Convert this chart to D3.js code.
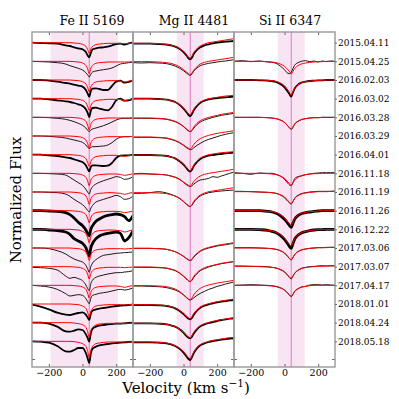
<!DOCTYPE html>
<html lang="en">
<head>
<meta charset="UTF-8">
<title>Line profiles</title>
<script src="https://d3js.org/d3.v7.min.js"></script>
<style>
  body { margin: 0; background: #fff; }
  text { font-family: "DejaVu Serif", serif; fill: #000; }
</style>
</head>
<body>
<div id="chart"></div>
<script>
// Observation dates, top to bottom
const dates = ["2015.04.11", "2015.04.25", "2016.02.03", "2016.03.02", "2016.03.28", "2016.03.29",
  "2016.04.01", "2016.11.18", "2016.11.19", "2016.11.26", "2016.12.22", "2017.03.06",
  "2017.03.07", "2017.04.17", "2018.01.01", "2018.04.24", "2018.05.18"];

// Velocity grid (km/s) shared by every profile
const velocity = [-300, -250, -200, -150, -100, -75, -50, -25, 0, 20, 30, 40, 50, 60, 80, 100,
  125, 150, 175, 200, 225, 250, 275, 300];

const panelTitles = ["Fe II 5169", "Mg II 4481", "Si II 6347"];
const bandRanges = [[-190, 210], [-40, 120], [-40, 120]];
const lineVelocity = 40;
const xTicks = [-200, 0, 200];

// Fe II 5169 : observed (black) and fit (red), one per date
const feRows = [0, 1, 2, 3, 4, 5, 6, 7, 8, 9, 10, 11, 12, 13, 14, 15, 16];
const feNoise = [1, 0, 1, 1, 0, 0, 1, 0, 0, 2, 2, 0, 0, 0, 1, 1, 1];
const feObs = [
  [1, .99, .98, .97, .92, .90, .86, .83, .80, .72, .62, .56, .70, .80, .83, .85, .86, .88, .92, .96, .97, .94, .98, 1],
  [1, .99, .98, .96, .92, .87, .83, .79, .74, .66, .60, .53, .62, .68, .71, .73, .75, .77, .80, .86, .92, .94, .96, .98],
  [1, 1, .98, .95, .91, .89, .86, .83, .80, .70, .60, .50, .68, .74, .75, .73, .70, .70, .82, .95, .98, .92, .94, .99],
  [1, 1, .98, .95, .92, .90, .87, .83, .78, .68, .58, .45, .65, .72, .73, .70, .67, .65, .75, .95, 1, .94, .95, 1],
  [1, 1, .99, .97, .94, .91, .87, .82, .76, .68, .62, .57, .62, .65, .68, .71, .75, .80, .86, .92, .96, .97, .97, .98],
  [1, 1, .99, .97, .94, .91, .88, .85, .81, .73, .67, .62, .66, .68, .68, .69, .70, .73, .80, .90, .96, .98, .98, .99],
  [1, 1, .98, .96, .92, .90, .86, .82, .78, .68, .58, .50, .64, .68, .68, .67, .66, .67, .75, .90, .97, .98, .98, 1],
  [1, 1, .99, .98, .95, .88, .80, .72, .64, .52, .44, .38, .52, .60, .68, .73, .78, .82, .86, .90, .88, .82, .84, .90],
  [1, 1, .99, .98, .94, .87, .78, .70, .62, .52, .45, .40, .52, .60, .70, .74, .78, .82, .86, .90, .86, .78, .80, .88],
  [1, 1, .99, .98, .94, .88, .78, .65, .55, .42, .32, .25, .45, .55, .68, .75, .82, .86, .88, .90, .88, .82, .70, .85],
  [1, 1, .98, .96, .92, .85, .72, .65, .58, .45, .32, .20, .45, .58, .72, .80, .85, .88, .90, .92, .88, .65, .75, .95],
  [1, 1, .98, .92, .82, .74, .67, .62, .58, .48, .38, .27, .45, .55, .65, .72, .78, .80, .82, .84, .85, .86, .87, .88],
  [.98, .97, .95, .90, .72, .65, .68, .64, .58, .45, .35, .28, .50, .60, .68, .72, .75, .78, .80, .82, .82, .84, .85, .88],
  [1, .98, .95, .88, .75, .68, .70, .72, .70, .60, .52, .45, .62, .70, .73, .76, .78, .80, .83, .86, .88, .86, .88, .92],
  [.98, .92, .84, .74, .68, .67, .70, .73, .75, .68, .60, .52, .72, .80, .84, .86, .88, .90, .92, .94, .95, .96, .97, .99],
  [1, 1, .97, .88, .74, .73, .76, .80, .78, .65, .55, .43, .70, .82, .88, .91, .93, .95, .96, .97, .97, .98, .99, 1],
  [1, .99, .96, .86, .70, .69, .74, .80, .80, .65, .50, .35, .65, .78, .84, .88, .90, .92, .94, .95, .96, .97, .98, .99]
];
const feFit = [
  [1, 1, 1, 1, 1, 1, .99, .98, .95, .89, .80, .68, .82, .89, .94, .96, .97, .98, .98, .98, .98, .97, .98, .99],
  [1, 1, 1, 1, 1, 1, .99, .98, .95, .88, .78, .63, .80, .88, .94, .96, .97, .98, .98, .98, .98, .98, .98, .99],
  [1, 1, 1, 1, 1, 1, .99, .98, .95, .88, .78, .65, .80, .88, .94, .96, .97, .98, .98, .98, .97, .94, .97, .99],
  [1, 1, 1, 1, 1, 1, .99, .98, .95, .88, .78, .65, .80, .88, .94, .96, .97, .98, .98, .98, .97, .94, .97, .99],
  [1, 1, 1, 1, 1, 1, .99, .98, .95, .88, .77, .62, .80, .88, .94, .96, .97, .98, .98, .98, .98, .98, .98, .99],
  [1, 1, 1, 1, 1, 1, .99, .98, .95, .88, .78, .63, .80, .88, .94, .96, .97, .98, .98, .98, .98, .98, .98, .99],
  [1, 1, 1, 1, 1, 1, .99, .98, .95, .88, .78, .65, .80, .88, .94, .96, .97, .98, .98, .98, .97, .95, .97, .99],
  [1, 1, 1, 1, 1, 1, .99, .98, .95, .88, .78, .63, .80, .88, .94, .96, .97, .98, .98, .98, .97, .94, .96, .99],
  [1, 1, 1, 1, 1, 1, .99, .98, .95, .88, .78, .63, .80, .88, .94, .96, .97, .98, .98, .97, .96, .93, .96, .99],
  [1, 1, 1, 1, 1, 1, .99, .98, .95, .88, .78, .64, .80, .88, .94, .96, .97, .98, .98, .98, .97, .94, .96, .99],
  [1, 1, 1, 1, 1, 1, .99, .98, .94, .87, .76, .60, .78, .87, .94, .96, .97, .98, .98, .97, .96, .92, .95, .99],
  [1, 1, 1, 1, 1, 1, .99, .98, .95, .88, .78, .63, .80, .88, .94, .96, .97, .98, .98, .98, .98, .97, .98, .99],
  [1, 1, 1, 1, 1, 1, .99, .98, .95, .88, .78, .63, .80, .88, .94, .96, .97, .98, .98, .98, .98, .97, .98, .99],
  [1, 1, 1, 1, 1, 1, .99, .98, .95, .88, .77, .62, .80, .88, .94, .96, .97, .98, .98, .98, .97, .94, .97, .99],
  [1, 1, 1, 1, 1, 1, .99, .98, .94, .87, .76, .60, .78, .87, .94, .96, .97, .98, .98, .98, .98, .97, .98, .99],
  [1, 1, 1, 1, 1, 1, .99, .97, .94, .86, .74, .55, .76, .86, .93, .96, .97, .98, .98, .98, .98, .98, .98, .99],
  [1, 1, 1, 1, 1, 1, .99, .97, .93, .85, .72, .50, .74, .85, .93, .95, .97, .98, .98, .98, .98, .98, .98, .99]
];

// Mg II 4481
const mgRows = [0, 1, 3, 4, 5, 6, 7, 8, 11, 12, 13, 14, 15, 16];
const mgNoise = [1, 0, 1, 0, 0, 1, 0, 0, 0, 0, 0, 1, 1, 1];
const mgObs = [
  [.97, .97, .97, .96, .94, .92, .88, .82, .72, .60, .53, .50, .55, .65, .78, .86, .92, .95, .98, 1, 1.02, 1.03, 1.04, 1.05],
  [.96, .95, .96, .95, .93, .90, .86, .80, .72, .64, .60, .58, .62, .70, .80, .87, .91, .94, .96, .98, 1, 1.01, 1.03, 1.05],
  [1, 1, 1, .99, .97, .94, .90, .82, .70, .58, .51, .48, .54, .64, .78, .88, .94, .98, 1, 1.02, 1.03, 1.04, 1.05, 1.06],
  [.97, .97, .97, .96, .94, .91, .87, .81, .72, .63, .59, .57, .60, .67, .78, .86, .92, .96, 1, 1.03, 1.06, 1.08, 1.10, 1.12],
  [.96, .96, .96, .95, .93, .90, .86, .80, .72, .64, .61, .59, .60, .64, .72, .78, .85, .90, .94, .98, 1.02, 1.05, 1.08, 1.10],
  [.99, .99, .99, .98, .96, .93, .89, .81, .70, .58, .52, .49, .55, .65, .78, .87, .93, .97, .99, 1.01, 1.02, 1.04, 1.05, 1.06],
  [.98, 1, .98, .97, .95, .92, .88, .82, .73, .65, .62, .60, .63, .67, .75, .80, .82, .85, .90, .88, .92, .96, 1, 1.04],
  [.96, .96, .98, 1.01, .97, .93, .88, .81, .71, .62, .58, .56, .60, .68, .80, .88, .94, .98, 1, 1.02, 1.03, 1.04, 1.05, 1.06],
  [.99, .99, .99, .98, .96, .93, .89, .83, .75, .67, .64, .62, .65, .72, .82, .90, .96, 1, 1.03, 1.06, 1.08, 1.10, 1.12, 1.14],
  [.98, .98, .98, .97, .95, .92, .88, .81, .71, .62, .57, .55, .59, .67, .79, .88, .94, .99, 1.03, 1.06, 1.09, 1.11, 1.13, 1.15],
  [.98, .98, .97, .96, .93, .90, .86, .80, .71, .62, .58, .56, .58, .62, .70, .76, .82, .88, .92, .97, 1, 1.04, 1.07, 1.10],
  [.97, .97, .97, .96, .94, .91, .87, .80, .70, .60, .56, .54, .58, .67, .80, .89, .95, .99, 1.02, 1.05, 1.07, 1.09, 1.11, 1.12],
  [.98, .98, .98, .97, .95, .92, .88, .81, .70, .59, .55, .53, .58, .67, .80, .89, .95, .99, 1.02, 1.05, 1.08, 1.10, 1.12, 1.13],
  [.97, .97, .97, .96, .94, .91, .86, .78, .66, .53, .47, .44, .52, .64, .79, .88, .94, .98, 1.01, 1.03, 1.05, 1.07, 1.08, 1.09]
];
const mgFit = [
  [.98, .98, .98, .97, .95, .93, .89, .83, .73, .62, .56, .54, .60, .70, .82, .90, .96, 1, 1.02, 1.04, 1.06, 1.08, 1.10, 1.12],
  [.99, .99, .99, .98, .96, .94, .90, .84, .75, .67, .63, .60, .65, .73, .84, .92, .97, 1, 1.02, 1.04, 1.06, 1.08, 1.10, 1.12],
  [1, 1, 1, .99, .97, .94, .90, .83, .72, .60, .54, .52, .58, .68, .81, .90, .96, 1, 1.02, 1.04, 1.06, 1.08, 1.09, 1.10],
  [.98, .98, .98, .97, .95, .92, .88, .82, .73, .64, .60, .58, .62, .70, .82, .90, .96, 1, 1.03, 1.06, 1.09, 1.11, 1.13, 1.15],
  [.97, .97, .97, .96, .94, .91, .87, .81, .73, .66, .63, .61, .66, .74, .85, .92, .98, 1.02, 1.05, 1.08, 1.10, 1.12, 1.14, 1.16],
  [.99, .99, .99, .98, .96, .93, .89, .82, .72, .60, .54, .52, .58, .68, .81, .90, .96, 1, 1.02, 1.04, 1.06, 1.07, 1.08, 1.09],
  [.98, .98, .98, .97, .95, .92, .89, .83, .74, .67, .64, .62, .67, .75, .85, .92, .97, 1, 1.02, 1.04, 1.06, 1.08, 1.10, 1.12],
  [.98, .98, .98, .97, .95, .92, .88, .82, .72, .63, .59, .57, .62, .71, .83, .91, .97, 1.01, 1.03, 1.05, 1.07, 1.09, 1.11, 1.13],
  [.99, .99, .99, .98, .96, .93, .89, .83, .75, .68, .65, .63, .67, .74, .84, .92, .98, 1.02, 1.05, 1.08, 1.10, 1.12, 1.14, 1.16],
  [.99, .99, .99, .98, .96, .93, .89, .82, .72, .63, .58, .56, .61, .70, .82, .90, .97, 1.01, 1.04, 1.07, 1.10, 1.12, 1.14, 1.16],
  [.99, .99, .99, .98, .96, .93, .89, .82, .72, .63, .59, .57, .62, .71, .83, .91, .97, 1.01, 1.04, 1.07, 1.09, 1.11, 1.13, 1.15],
  [.98, .98, .98, .97, .95, .92, .88, .81, .71, .62, .58, .56, .61, .70, .82, .91, .97, 1.01, 1.04, 1.07, 1.09, 1.11, 1.13, 1.15],
  [.98, .98, .98, .97, .95, .92, .88, .81, .71, .61, .57, .55, .60, .70, .82, .91, .97, 1.01, 1.04, 1.07, 1.09, 1.11, 1.13, 1.15],
  [.98, .98, .98, .97, .95, .92, .87, .80, .69, .57, .51, .48, .56, .67, .81, .90, .96, 1, 1.03, 1.05, 1.07, 1.09, 1.11, 1.12]
];

// Si II 6347
const siRows = [1, 2, 4, 7, 8, 9, 10, 11, 12, 13];
const siNoise = [0, 1, 0, 0, 0, 2, 2, 0, 0, 0];
const siObs = [
  [1, 1.02, .99, 1.01, .98, .97, .94, .86, .75, .64, .63, .67, .78, .88, .96, 1, 1.02, .99, 1.01, .98, 1.01, .99, 1.01, 1],
  [1, 1, 1, .99, .98, .97, .94, .88, .78, .65, .57, .50, .62, .74, .86, .92, .95, .97, .98, .99, .99, 1, 1, 1],
  [1, 1, 1, 1, .99, .98, .96, .92, .85, .74, .68, .64, .70, .79, .88, .93, .96, .98, .99, .99, 1, 1, 1, 1],
  [1.02, 1, .97, 1.01, 1, 1, .97, .92, .82, .70, .65, .63, .72, .84, .90, .92, .96, .98, 1, 1.01, 1.02, 1.02, 1.02, 1.02],
  [1.02, 1.02, 1.01, 1, .99, .98, .96, .91, .83, .72, .67, .64, .71, .81, .90, .95, .98, 1, 1.01, 1.02, 1.02, 1.02, 1.02, 1.03],
  [1, 1, 1, 1, .98, .96, .92, .85, .74, .62, .55, .50, .62, .74, .85, .91, .94, .96, .98, .99, 1, 1, 1, 1],
  [1, 1, 1, .99, .97, .94, .90, .82, .70, .56, .48, .43, .56, .70, .82, .89, .93, .96, .98, .99, .99, 1, 1, 1],
  [1.01, 1.01, 1.01, 1, .99, .98, .96, .92, .85, .74, .68, .64, .71, .80, .89, .94, .97, .99, 1, 1.01, 1.01, 1.02, 1.02, 1.02],
  [1.02, 1.02, 1.01, 1.01, 1, .98, .96, .91, .84, .73, .67, .63, .71, .80, .89, .95, .98, 1, 1.01, 1.02, 1.03, 1.02, 1.03, 1.03],
  [1, 1.01, 1.02, 1.01, 1, .99, .97, .93, .86, .76, .70, .66, .73, .82, .90, .95, .97, 1.01, 1.02, 1.02, 1.01, 1.02, 1.01, 1]
];
const siFit = [
  [1, 1, 1, 1, .99, .98, .96, .92, .85, .75, .69, .62, .70, .78, .87, .92, .95, .97, .98, .99, .99, 1, 1, 1],
  [1, 1, 1, 1, .99, .98, .96, .91, .83, .70, .62, .54, .65, .75, .86, .92, .95, .97, .98, .99, .99, 1, 1, 1],
  [1, 1, 1, 1, .99, .98, .96, .92, .85, .74, .69, .65, .71, .80, .88, .93, .96, .98, .99, .99, 1, 1, 1, 1],
  [1, 1, 1, 1, .99, .98, .96, .92, .85, .74, .69, .64, .71, .79, .88, .93, .96, .98, .99, .99, 1, 1, 1, 1],
  [1.01, 1.01, 1.01, 1, .99, .98, .96, .92, .85, .74, .69, .65, .72, .80, .89, .94, .97, .99, 1, 1.01, 1.01, 1.01, 1.02, 1.02],
  [1, 1, 1, 1, .98, .97, .94, .88, .78, .66, .60, .55, .65, .76, .86, .92, .95, .97, .98, .99, 1, 1, 1, 1],
  [1, 1, 1, .99, .97, .95, .91, .84, .73, .60, .54, .50, .60, .72, .83, .90, .94, .96, .98, .99, .99, 1, 1, 1],
  [1, 1, 1, 1, .99, .98, .96, .92, .85, .74, .69, .65, .72, .80, .89, .94, .97, .99, 1, 1.01, 1.01, 1.01, 1.02, 1.02],
  [1.01, 1.01, 1.01, 1, .99, .98, .96, .92, .85, .74, .69, .65, .72, .80, .89, .94, .97, .99, 1, 1.01, 1.01, 1.02, 1.02, 1.02],
  [1, 1, 1, 1, .99, .98, .96, .92, .86, .76, .71, .67, .73, .81, .89, .94, .97, .99, 1, 1, 1, 1, 1, 1]
];

// Each successive date is shifted down by this much
const rowStep = 0.56;
const noiseWidth = [0.9, 1.8, 2.8];

const W = 399, H = 399;
const plotTop = 32, plotBottom = 367, panelLeft = 32, panelWidth = 101;

const panels = [
  { title: panelTitles[0], rows: feRows, obs: feObs, fit: feFit, noise: feNoise, band: bandRanges[0], titleX: 92 },
  { title: panelTitles[1], rows: mgRows, obs: mgObs, fit: mgFit, noise: mgNoise, band: bandRanges[1], titleX: 194 },
  { title: panelTitles[2], rows: siRows, obs: siObs, fit: siFit, noise: siNoise, band: bandRanges[2], titleX: 290 }
];

const svg = d3.select("#chart").append("svg")
  .attr("width", W)
  .attr("height", H);

const y = d3.scaleLinear()
  .domain([-8.73, 1.32])
  .range([plotBottom, plotTop]);

panels.forEach((p, pi) => {
  const left = panelLeft + pi * panelWidth;
  const x = d3.scaleLinear().domain([-300, 300]).range([left, left + panelWidth]);

  const clipId = "clip" + pi;
  svg.append("clipPath").attr("id", clipId)
    .append("rect")
    .attr("x", left).attr("y", plotTop)
    .attr("width", panelWidth).attr("height", plotBottom - plotTop);

  const g = svg.append("g").attr("clip-path", `url(#${clipId})`);

  // shaded velocity window
  g.append("rect")
    .attr("x", x(p.band[0]))
    .attr("y", plotTop)
    .attr("width", x(p.band[1]) - x(p.band[0]))
    .attr("height", plotBottom - plotTop)
    .attr("fill", "#e377c2")
    .attr("fill-opacity", 0.2);

  g.append("line")
    .attr("x1", x(lineVelocity)).attr("x2", x(lineVelocity))
    .attr("y1", plotTop).attr("y2", plotBottom)
    .attr("stroke", "#e377c2")
    .attr("stroke-width", 1);

  const line = (row) => d3.line()
    .x((d, k) => x(velocity[k]))
    .y(d => y(d - row * rowStep))
    .curve(d3.curveMonotoneX);

  p.rows.forEach((row, k) => {
    g.append("path")
      .attr("d", line(row)(p.obs[k]))
      .attr("fill", "none")
      .attr("stroke", "#000")
      .attr("stroke-width", noiseWidth[p.noise[k]])
      .attr("stroke-linejoin", "round");
  });
  p.rows.forEach((row, k) => {
    g.append("path")
      .attr("d", line(row)(p.fit[k]))
      .attr("fill", "none")
      .attr("stroke", "#ff0000")
      .attr("stroke-width", 1);
  });

  // axes: ticks point inward
  const bottom = svg.append("g")
    .attr("transform", `translate(0,${plotBottom})`)
    .call(d3.axisBottom(x).tickValues(xTicks).tickSizeInner(-3).tickSizeOuter(0).tickPadding(2));
  bottom.select(".domain").remove();
  bottom.selectAll("text").style("font-family", "DejaVu Serif").style("font-size", "9.5px");
  bottom.selectAll("line").attr("stroke", "#666");

  const top = svg.append("g")
    .attr("transform", `translate(0,${plotTop})`)
    .call(d3.axisTop(x).tickValues(xTicks).tickSizeInner(-3).tickSizeOuter(0).tickFormat(""));
  top.select(".domain").remove();
  top.selectAll("line").attr("stroke", "#666");

  const leftAx = svg.append("g")
    .attr("transform", `translate(${left},0)`)
    .call(d3.axisLeft(y).tickValues([-8.49]).tickSizeInner(-3).tickSizeOuter(0).tickFormat(""));
  leftAx.select(".domain").remove();
  leftAx.selectAll("line").attr("stroke", "#666");

  const rightAx = svg.append("g")
    .attr("transform", `translate(${left + panelWidth},0)`)
    .call(d3.axisRight(y).tickValues([-8.49]).tickSizeInner(-3).tickSizeOuter(0).tickFormat(""));
  rightAx.select(".domain").remove();
  rightAx.selectAll("line").attr("stroke", "#666");

  // frame
  svg.append("rect")
    .attr("x", left).attr("y", plotTop)
    .attr("width", panelWidth).attr("height", plotBottom - plotTop)
    .attr("fill", "none")
    .attr("stroke", "#999")
    .attr("stroke-width", 1.4);

  svg.append("text")
    .attr("x", p.titleX)
    .attr("y", 25)
    .attr("text-anchor", "middle")
    .style("font-size", "12.5px")
    .text(p.title);
});

// date labels on the right of the last panel
const dateAxis = svg.append("g")
  .attr("transform", `translate(${panelLeft + 3 * panelWidth},0)`)
  .call(d3.axisRight(y)
    .tickValues(dates.map((d, i) => 1 - i * rowStep))
    .tickFormat((d, i) => dates[i])
    .tickSizeInner(2).tickSizeOuter(0).tickPadding(1));
dateAxis.select(".domain").remove();
dateAxis.selectAll("line").attr("stroke", "#666");
dateAxis.selectAll("text").style("font-family", "DejaVu Serif").style("font-size", "9px");

svg.append("text")
  .attr("transform", "translate(21,200) rotate(-90)")
  .attr("text-anchor", "middle")
  .style("font-size", "15px")
  .text("Normalized Flux");

const xl = svg.append("text")
  .attr("x", 186)
  .attr("y", 393)
  .attr("text-anchor", "middle")
  .style("font-size", "15px");
xl.append("tspan").text("Velocity (km s");
xl.append("tspan").attr("dy", -6).style("font-size", "10.5px").text("\u22121");
xl.append("tspan").attr("dy", 6).text(")");
</script>
</body>
</html>
